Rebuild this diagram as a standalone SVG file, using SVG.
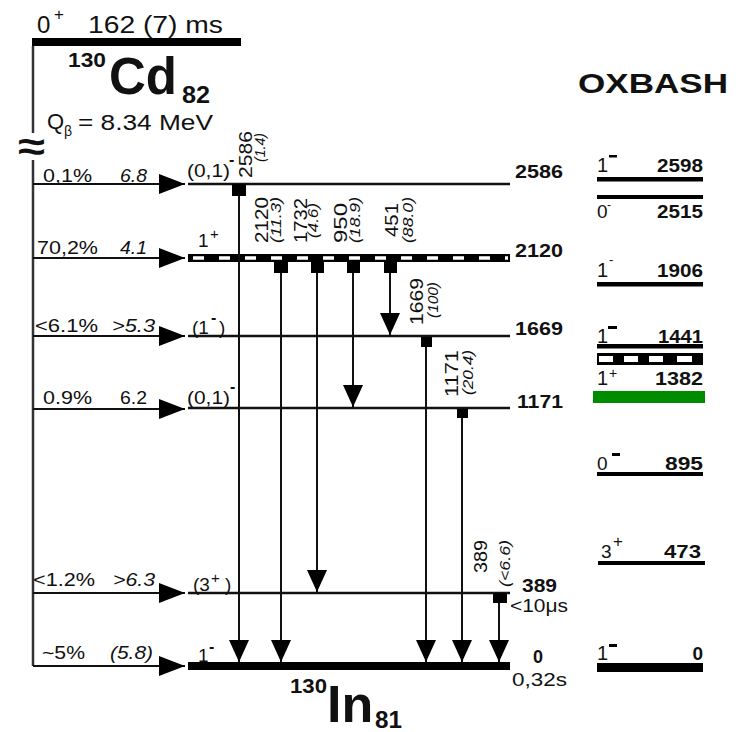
<svg xmlns="http://www.w3.org/2000/svg" width="744" height="732" viewBox="0 0 744 732">
<defs>
<style>
text{font-family:"Liberation Sans",Arial,Helvetica,sans-serif;fill:#111}
.b{font-weight:bold}
.i{font-style:italic}
.lv{stroke:#111;stroke-width:2.5;fill:none}
.tr{stroke:#111;stroke-width:2;fill:none;marker-end:url(#ah)}
.br{stroke:#111;stroke-width:2;fill:none;marker-end:url(#ab)}
.fd{stroke:#333;stroke-width:2.5;fill:none}
.sq{fill:#000}
.ox{fill:#000}
</style>
<marker id="ah" viewBox="0 -10 22 20" refX="22" refY="0" markerWidth="22" markerHeight="20" markerUnits="userSpaceOnUse" orient="auto"><path d="M0,-10 L22,0 L0,10 Z" fill="#000"/></marker>
<marker id="ab" viewBox="0 -10 26 20" refX="26" refY="0" markerWidth="26" markerHeight="20" markerUnits="userSpaceOnUse" orient="auto"><path d="M0,-10 L26,0 L0,10 Z" fill="#000"/></marker>
</defs>
<rect width="744" height="732" fill="#fff"/>

<g id="parent">
<rect x="32" y="38" width="209" height="8" fill="#000"/>
<text x="37" y="33" font-size="24">0</text>
<text x="54" y="20" font-size="17">+</text>
<text x="88" y="33" font-size="23" textLength="135" lengthAdjust="spacingAndGlyphs">162 (7) ms</text>
<text class="b" x="68" y="67" font-size="20" textLength="38" lengthAdjust="spacingAndGlyphs">130</text>
<text class="b" x="109" y="94" font-size="51">Cd</text>
<text class="b" x="182" y="103" font-size="24" textLength="28" lengthAdjust="spacingAndGlyphs">82</text>
<text x="47" y="129" font-size="22">Q</text>
<text x="64" y="136" font-size="14">β</text>
<text x="78" y="130" font-size="22" textLength="135" lengthAdjust="spacingAndGlyphs">= 8.34 MeV</text>
<text class="b" x="18" y="160" font-size="40" textLength="27" lengthAdjust="spacingAndGlyphs">≈</text>
</g>

<g id="daughter-label">
<text class="b" x="290" y="693" font-size="20" textLength="37" lengthAdjust="spacingAndGlyphs">130</text>
<text class="b" x="327" y="722" font-size="52">In</text>
<text class="b" x="375" y="728" font-size="23" textLength="27" lengthAdjust="spacingAndGlyphs">81</text>
</g>

<g id="level-2586">
<line class="lv" x1="188" y1="184" x2="510" y2="184"/>
<text x="187" y="177" font-size="19" textLength="43" lengthAdjust="spacingAndGlyphs">(0,1)</text>
<text class="b" x="229" y="165" font-size="16">-</text>
<text class="b" x="515" y="178" font-size="18" textLength="48" lengthAdjust="spacingAndGlyphs">2586</text>
</g>

<g id="level-2120">
<rect x="188" y="254" width="322" height="8" fill="#000"/>
<line x1="193" y1="258" x2="508" y2="258" stroke="#fff" stroke-width="3.5" stroke-dasharray="11 15"/>
<text x="198" y="247" font-size="19">1</text>
<text x="210" y="239" font-size="15">+</text>
<text class="b" x="515" y="257" font-size="18" textLength="48" lengthAdjust="spacingAndGlyphs">2120</text>
</g>

<g id="level-1669">
<line class="lv" x1="188" y1="336" x2="510" y2="336"/>
<text x="192" y="334" font-size="19">(1</text>
<text class="b" x="211" y="323" font-size="16">-</text>
<text x="219" y="334" font-size="19">)</text>
<text class="b" x="515" y="335" font-size="18" textLength="48" lengthAdjust="spacingAndGlyphs">1669</text>
</g>

<g id="level-1171">
<line class="lv" x1="188" y1="408" x2="510" y2="408"/>
<text x="187" y="404" font-size="19" textLength="43" lengthAdjust="spacingAndGlyphs">(0,1)</text>
<text class="b" x="230" y="392" font-size="16">-</text>
<text class="b" x="517" y="408" font-size="18" textLength="46" lengthAdjust="spacingAndGlyphs">1171</text>
</g>

<g id="level-389">
<line class="lv" x1="188" y1="593" x2="510" y2="593"/>
<text x="193" y="591" font-size="19">(3</text>
<text x="211" y="583" font-size="15">+</text>
<text x="225" y="591" font-size="19">)</text>
<text class="b" x="522" y="592" font-size="18" textLength="35" lengthAdjust="spacingAndGlyphs">389</text>
<text x="510" y="612" font-size="18" textLength="58" lengthAdjust="spacingAndGlyphs">&lt;10μs</text>
</g>

<g id="level-0">
<rect x="188" y="662" width="322" height="8" fill="#000"/>
<text x="198" y="662" font-size="19">1</text>
<text class="b" x="209" y="652" font-size="16">-</text>
<text class="b" x="533" y="663" font-size="18">0</text>
<text x="512" y="686" font-size="18" textLength="55" lengthAdjust="spacingAndGlyphs">0,32s</text>
</g>

<g id="connectors">
<path class="fd" d="M33,46 V133"/>
<path class="fd" d="M33,160 V666"/>
<path class="br" d="M33,184 H185"/>
<path class="br" d="M33,258 H185"/>
<path class="br" d="M33,336 H185"/>
<path class="br" d="M33,409 H185"/>
<path class="br" d="M33,593 H185"/>
<path class="br" d="M33,666 H185"/>
<text x="43" y="182" font-size="19" textLength="49" lengthAdjust="spacingAndGlyphs">0,1%</text>
<text class="i" x="120" y="182" font-size="19" textLength="27" lengthAdjust="spacingAndGlyphs">6.8</text>
<text x="37" y="254" font-size="19" textLength="61" lengthAdjust="spacingAndGlyphs">70,2%</text>
<text class="i" x="120" y="254" font-size="19" textLength="27" lengthAdjust="spacingAndGlyphs">4.1</text>
<text x="35" y="332" font-size="19" textLength="63" lengthAdjust="spacingAndGlyphs">&lt;6.1%</text>
<text class="i" x="112" y="332" font-size="19" textLength="43" lengthAdjust="spacingAndGlyphs">&gt;5.3</text>
<text x="43" y="404" font-size="19" textLength="49" lengthAdjust="spacingAndGlyphs">0.9%</text>
<text x="120" y="404" font-size="19" textLength="27" lengthAdjust="spacingAndGlyphs">6.2</text>
<text x="33" y="586" font-size="19" textLength="62" lengthAdjust="spacingAndGlyphs">&lt;1.2%</text>
<text class="i" x="113" y="586" font-size="19" textLength="42" lengthAdjust="spacingAndGlyphs">&gt;6.3</text>
<text x="42" y="659" font-size="19" textLength="43" lengthAdjust="spacingAndGlyphs">~5%</text>
<text class="i" x="110" y="659" font-size="19" textLength="43" lengthAdjust="spacingAndGlyphs">(5.8)</text>

<rect class="sq" x="232" y="184" width="14" height="12"/>
<path class="tr" d="M239,196 V662"/>
<rect class="sq" x="274" y="262" width="14" height="11"/>
<path class="tr" d="M281,273 V662"/>
<rect class="sq" x="311" y="262" width="13" height="11"/>
<path class="tr" d="M317,273 V592"/>
<rect class="sq" x="347" y="262" width="13" height="11"/>
<path class="tr" d="M353,273 V407"/>
<rect class="sq" x="384" y="262" width="13" height="11"/>
<path class="tr" d="M390,273 V335"/>
<rect class="sq" x="421" y="337" width="11" height="10"/>
<path class="tr" d="M426,347 V662"/>
<rect class="sq" x="457" y="409" width="11" height="9"/>
<path class="tr" d="M462,418 V662"/>
<rect class="sq" x="493" y="593" width="14" height="10"/>
<path class="tr" d="M499,603 V662"/>

<text transform="translate(252,178) rotate(-90)" font-size="19" textLength="47" lengthAdjust="spacingAndGlyphs">2586</text>
<text class="i" transform="translate(265,162) rotate(-90)" font-size="15" textLength="29" lengthAdjust="spacingAndGlyphs">(1.4)</text>
<text transform="translate(268,243) rotate(-90)" font-size="19" textLength="46" lengthAdjust="spacingAndGlyphs">2120</text>
<text class="i" transform="translate(281,243) rotate(-90)" font-size="15" textLength="46" lengthAdjust="spacingAndGlyphs">(11.3)</text>
<text transform="translate(307,243) rotate(-90)" font-size="19" textLength="45" lengthAdjust="spacingAndGlyphs">1732</text>
<text class="i" transform="translate(318,238) rotate(-90)" font-size="15" textLength="35" lengthAdjust="spacingAndGlyphs">(4.6)</text>
<text transform="translate(347,243) rotate(-90)" font-size="19" textLength="40" lengthAdjust="spacingAndGlyphs">950</text>
<text class="i" transform="translate(360,243) rotate(-90)" font-size="15" textLength="46" lengthAdjust="spacingAndGlyphs">(18.9)</text>
<text transform="translate(398,237) rotate(-90)" font-size="19" textLength="34" lengthAdjust="spacingAndGlyphs">451</text>
<text class="i" transform="translate(413,243) rotate(-90)" font-size="15" textLength="46" lengthAdjust="spacingAndGlyphs">(88.0)</text>
<text transform="translate(423,325) rotate(-90)" font-size="19" textLength="47" lengthAdjust="spacingAndGlyphs">1669</text>
<text class="i" transform="translate(438,318) rotate(-90)" font-size="15" textLength="36" lengthAdjust="spacingAndGlyphs">(100)</text>
<text transform="translate(458,397) rotate(-90)" font-size="19" textLength="47" lengthAdjust="spacingAndGlyphs">1171</text>
<text class="i" transform="translate(473,395) rotate(-90)" font-size="15" textLength="45" lengthAdjust="spacingAndGlyphs">(20.4)</text>
<text transform="translate(487,573) rotate(-90)" font-size="19" textLength="33" lengthAdjust="spacingAndGlyphs">389</text>
<text class="i" transform="translate(510,587) rotate(-90)" font-size="15" textLength="47" lengthAdjust="spacingAndGlyphs">(&lt;6.6)</text>
</g>

<g id="oxbash">
<text class="b" x="578" y="93" font-size="28" textLength="150" lengthAdjust="spacingAndGlyphs">OXBASH</text>
<g id="ox-2598">
<text x="597" y="172" font-size="20">1</text>
<rect class="ox" x="609" y="155" width="8" height="2.5"/>
<text class="b" x="703" y="172" font-size="19" text-anchor="end" textLength="46" lengthAdjust="spacingAndGlyphs">2598</text>
<rect class="ox" x="597" y="177" width="106" height="4.5"/>
</g>
<g id="ox-2515">
<rect class="ox" x="597" y="195" width="106" height="4"/>
<text x="597" y="218" font-size="19" fill="#333">0</text>
<text x="607" y="209" font-size="12">-</text>
<text class="b" x="703" y="218" font-size="19" text-anchor="end" textLength="46" lengthAdjust="spacingAndGlyphs">2515</text>
</g>
<g id="ox-1906">
<text x="597" y="277" font-size="20">1</text>
<text x="609" y="264" font-size="13">-</text>
<text class="b" x="703" y="277" font-size="19" text-anchor="end" textLength="46" lengthAdjust="spacingAndGlyphs">1906</text>
<rect class="ox" x="597" y="282" width="106" height="4.5"/>
</g>
<g id="ox-1441">
<text x="597" y="343" font-size="20">1</text>
<rect class="ox" x="608" y="326" width="9" height="3"/>
<text class="b" x="703" y="343" font-size="19" text-anchor="end" textLength="45" lengthAdjust="spacingAndGlyphs">1441</text>
<rect class="ox" x="597" y="344" width="106" height="4.5"/>
</g>
<g id="ox-1382">
<rect class="ox" x="597" y="353" width="106" height="12"/>
<rect x="599" y="356" width="14" height="6" fill="#fff"/>
<rect x="624" y="356" width="14" height="6" fill="#fff"/>
<rect x="649" y="356" width="14" height="6" fill="#fff"/>
<rect x="677" y="356" width="15" height="6" fill="#fff"/>
<text x="597" y="385" font-size="20">1</text>
<text x="609" y="378" font-size="14">+</text>
<text class="b" x="703" y="385" font-size="19" text-anchor="end" textLength="48" lengthAdjust="spacingAndGlyphs">1382</text>
<rect x="593" y="391" width="112" height="12" fill="#008c00"/>
</g>
<g id="ox-895">
<text x="597" y="470" font-size="19" fill="#333">0</text>
<rect class="ox" x="612" y="453" width="8" height="3"/>
<text class="b" x="703" y="470" font-size="19" text-anchor="end" textLength="38" lengthAdjust="spacingAndGlyphs">895</text>
<rect class="ox" x="597" y="472" width="106" height="4"/>
</g>
<g id="ox-473">
<text x="601" y="558" font-size="19" fill="#333">3</text>
<text x="613" y="547" font-size="17">+</text>
<text class="b" x="701" y="558" font-size="19" text-anchor="end" textLength="37" lengthAdjust="spacingAndGlyphs">473</text>
<rect class="ox" x="598" y="561" width="107" height="4"/>
</g>
<g id="ox-0">
<text x="597" y="660" font-size="20" fill="#333">1</text>
<rect class="ox" x="609" y="644" width="8" height="3"/>
<text class="b" x="703" y="660" font-size="19" text-anchor="end">0</text>
<rect class="ox" x="597" y="663" width="106" height="9"/>
</g>
</g>
</svg>
